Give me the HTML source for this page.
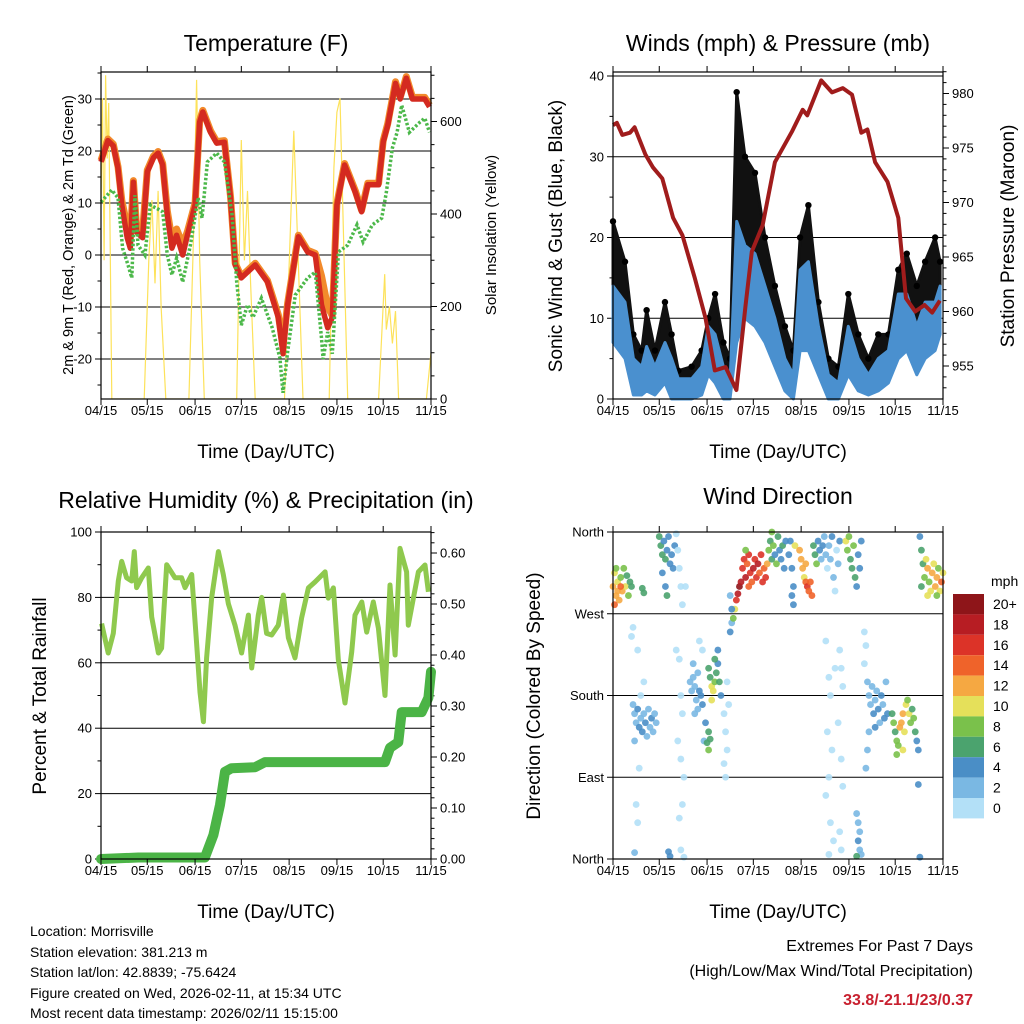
<!DOCTYPE html>
<html><head><meta charset="utf-8"><style>
body{margin:0;background:#fff;}
svg{display:block;font-family:"Liberation Sans",sans-serif;}
</style></head><body>
<svg id="s" width="1024" height="1024" viewBox="0 0 1024 1024" xmlns="http://www.w3.org/2000/svg">
<rect width="1024" height="1024" fill="#fff"/>
<g id="g"></g>
<g font-size="14" fill="#000">
<text x="30" y="936">Location: Morrisville</text>
<text x="30" y="957">Station elevation: 381.213 m</text>
<text x="30" y="977">Station lat/lon: 42.8839; -75.6424</text>
<text x="30" y="998">Figure created on Wed, 2026-02-11, at 15:34 UTC</text>
<text x="30" y="1018">Most recent data timestamp: 2026/02/11 15:15:00</text>
</g>
<g text-anchor="end">
<text x="973" y="951" font-size="16">Extremes For Past 7 Days</text>
<text x="973" y="976" font-size="16">(High/Low/Max Wind/Total Precipitation)</text>
<text x="973" y="1005" font-size="16" font-weight="bold" fill="#c8202f">33.8/-21.1/23/0.37</text>
</g>
</svg>
<script>
// ---------- data ----------
const monthLabels=["04/15","05/15","06/15","07/15","08/15","09/15","10/15","11/15"];
const monthDays=[0,30,61,91,122,153,183,214];
// Temperature
const tempDays=[0,4.5,8,11,13.5,17,19,21,23,27,30,34,37,40,43,46,49,53,56,61,64,66,71,75,80,84,87,91,100,108,115,118,121,128,134,139,143,147,150,153,158,165,169,173,180,183,186,191,194,198,202,210,213];
const tempRed=[17.9,22,21,16.7,9.6,3.3,1.3,14,4.4,3.3,16,18.7,19.6,17.3,7.7,1.3,3.8,0,3.8,9.6,25.6,27.5,23.6,21.5,21.7,11,-1.9,-4.4,-1.9,-5.2,-12,-19,-9.6,3.5,0.6,0,-9.6,-14,-12,9.6,17.3,12,8.3,13.5,13.5,21.7,25,33,30,34,30,30,28.5];
const tempOrange=[18.2,22.3,21.3,17,10.5,5.5,3,14.3,5.5,4.5,16.3,19,19.9,17.6,8.5,3,5,2,4.5,10,25.9,27.8,23.9,21.8,22,11.3,-1.6,-4.1,-1.6,-4.9,-11.5,-17.5,-9.3,3.8,0.9,0.3,-4,-10,-11.7,9.9,17.6,12.3,8.6,13.8,13.8,22,25.3,33.3,30.3,34.3,30.3,30.3,28.8];
const dewDays=[0,7,11,14,17.5,20,22,24,28.5,32,36,40,43,46,49,53,58,63,65.5,69,75,80,85,88,91,95,98.5,104,111,116,118,121,126,134,139,143,144,147,150,154,160,166,170,176,182,185,189,192,195,200,207,210,213];
const dewVals=[10.2,12.5,11,1.3,-1.9,-4.4,11.5,1.9,0,9.6,9,8.3,0,-3.8,-0.6,-5.2,1.9,11,7.1,17.9,19.6,17.9,7.7,-5.2,-13.5,-9.6,-12,-8.3,-14,-19.8,-26.5,-18.7,-7.7,-4.4,-3.3,-16,-20,-14.8,-19,0.6,1.9,5.8,2.5,5.8,7.1,12,20.6,23.6,28.8,23.6,25.6,26.3,23.6];
const solarDays=[0,1,2,3,4,5,7,28,31,33,35,37,39,42,57,60,62,64,67,88,91,93,95,97,100,119,125,131,148,151,153,155,160,180,184,185,187,189,191,193,211,214];
const solarVals=[420,650,300,700,520,640,0,0,300,430,250,450,200,0,0,350,690,300,0,0,560,300,450,250,0,0,580,0,0,500,620,650,0,0,270,150,200,120,190,0,0,100];
// Winds & pressure
const windDays=[0,7.8,13.2,18.6,21.8,27.2,33.7,38,42.4,51,57.5,61.8,66.2,71.6,75.9,80.2,85.6,92.1,98.6,105,111.5,117,121.3,126.7,133.2,139.7,146.2,152.6,159.1,165.6,172,178.6,185,190.5,197,202.4,208.9,212.1];
const windHi=[14,12,5,4,6.5,4,7,5,2.5,2.5,4,9,8,4,2,22,19,18,14,10,5,3,16,17,9,3,2,9,5,3,5,6,13,13,9,12,12,14];
const windLo=[7,5,0.5,0.5,1,0.5,2,0,0,0,0.5,3,2,0,0,7,10,9,7,4,1,0,6,6,3,0,0,3,1,0.5,1,2,5,6,3,5,6,8];
const gustVals=[22,17,8,6,11,6,12,8,3.5,4,6,10,13,7,5,38,30,28,20,14,9,6,20,24,12,5,4,13,8,5,8,8,16,18,14,17,20,17];
const presDays=[0,2.5,6,11,14,21,26,32,39,45,53,60,66,73,80,86,90,97,105,116,123,126,135,142,149,155,161,165,170,178,185,190,196,202,207,212];
const presVals=[977.1,977.3,976.2,976.4,976.9,974.4,973.2,972.2,968.6,967,963.1,959.4,954.6,954.9,952.8,960.6,965.5,967.9,973.7,976.5,978.5,978,981.2,980.1,980.5,979.9,976.4,976.7,973.7,971.9,968.6,961.2,960,960.6,959.9,961];
// RH & precip
const rhDays=[0.4,4.7,8,11.2,13.4,16.6,19.9,21.6,23.1,26.4,30.7,32.9,37.2,39.3,42.6,48,52.3,54.5,58.8,62,64.2,66.4,68.5,71.8,76.1,79.3,82.6,86.9,91.2,95.6,97.7,102,104.2,107.4,110.7,115,118.3,121.5,125.8,130.1,134.5,138.8,145.3,147.4,150.7,153.9,158.2,162.6,164.7,169.1,172.3,176.6,179.9,184.2,187.4,190.7,193.9,198.2,199.3,202.6,205.8,210.1,212.3];
const rhVals=[72,63,69,85,91,86,85,94,83,86,89,74,63,64.5,90,86,86,83,87,66,51,42,61.5,80,94,87,78,71.5,63,74.6,58.4,74.6,80,69,68.5,71.5,80.7,67.6,61.5,73.7,82.9,84.7,87.8,79.8,82.9,61,47.7,63.3,74.6,78.6,69.4,78.6,70.6,50,83.8,62.4,95,87.8,71.5,79.8,87.8,89.9,81.7];
const precipDays=[0,24.2,67.4,72.9,77.2,80.4,84.7,99.9,106.4,184.2,187.4,192.8,195,208,212.3,214];
const precipVals=[0,0.003,0.003,0.047,0.106,0.171,0.178,0.18,0.19,0.19,0.218,0.229,0.288,0.288,0.316,0.367];
// Wind direction: day, degrees, mph
const dirDays=[],dirDegs=[],dirSpeeds=[];
const dirPts=[[0,300,12],[1,315,10],[2,290,13],[3,305,11],[4,285,12],[5,310,9],[6,295,13],[7,320,8],[8,300,10],[9,312,7],[10,290,9],[11,305,6],[1,280,14],[2,320,8],[3,295,12],[5,300,14],[12,300,6],
[13,170,3],[14,160,2],[15,150,3],[16,165,4],[17,145,5],[18,155,3],[19,140,4],[20,160,3],[21,150,5],[22,135,3],[23,165,2],[24,145,3],[25,155,4],[26,140,3],[27,160,2],[28,150,3],[14,130,2],[18,180,1],[12,245,1],[13,255,1],[16,230,1],[20,195,1],[17,100,1],[15,60,1],[16,40,1],[14,7,3],[19,298,7],[20,293,7],
[30,355,6],[31,345,7],[32,335,6],[33,350,5],[34,330,7],[35,340,4],[36,355,4],[37,325,5],[38,335,4],[39,320,4],[32,315,4],[34,300,4],[35,290,6],[40,345,4],
[41,358,1],[42,340,1],[43,320,1],[44,300,1],[45,280,1],[41,230,1],[43,220,1],[44,180,1],[45,160,1],[42,130,1],[44,110,1],[46,90,1],[45,60,1],[43,45,1],[44,10,1],[46,2,1],[47,300,1],[36,8,4],[37,3,4],
[50,195,3],[51,185,3],[52,200,2],[53,190,3],[54,175,3],[55,205,3],[56,185,4],[57,180,4],[58,170,4],[55,165,3],[53,160,2],[52,215,2],[56,240,1],[58,230,1],[60,150,4],[59,130,2],
[62,210,6],[63,200,7],[64,190,10],[65,185,11],[66,195,8],[67,205,6],[68,215,5],[69,195,6],[70,180,5],[64,175,10],[66,220,6],[68,230,4],[61,128,7],[62,120,8],[63,132,6],[62,140,6],
[72,160,1],[73,140,1],[74,120,1],[72,105,1],[73,90,1],[75,170,1],[74,195,1],
[76,250,4],[77,260,3],[78,265,8],[79,275,10],[80,285,17],[81,292,19],[82,300,20],[83,305,18],[77,275,4],[76,290,3],
[84,320,17],[85,330,16],[86,310,18],[87,325,15],[88,335,17],[89,315,16],[90,305,14],[91,320,19],[92,330,17],[93,310,16],[94,325,18],[95,315,15],[96,335,16],[97,305,17],[98,320,14],[99,310,16],[100,325,12],[86,340,9],[88,300,14],
[101,340,8],[102,350,7],[103,330,6],[104,345,9],[105,335,5],[106,325,8],[107,355,6],[108,340,4],[109,330,5],[110,345,7],[111,320,4],[112,350,5],[114,335,4],[115,350,4],[116,320,4],[117,300,4],[116,290,4],[117,280,4],[118,345,10],[103,360,8],
[121,340,12],[122,330,13],[123,320,12],[124,310,11],[125,305,15],[126,300,17],[127,295,14],[128,305,15],[129,290,14],[125,325,13],
[130,345,7],[131,335,6],[132,325,8],[133,350,5],[134,340,4],[135,330,3],[136,345,4],[137,355,2],[138,335,2],[139,320,1],[140,345,2],[141,330,3],[142,355,4],[143,310,2],[144,295,1],[145,340,1],[146,325,2],[147,350,4],
[138,240,1],[140,200,1],[141,180,1],[139,140,1],[142,120,1],[140,90,1],[138,70,1],[141,40,1],[143,20,1],[140,5,1],[147,230,1],[148,210,1],[149,190,1],[146,150,1],[148,110,1],[149,80,1],[147,30,1],[148,10,1],[144,210,1],
[151,350,10],[152,340,8],[153,355,9],[154,330,7],[155,320,7],[156,345,8],[157,310,6],[158,300,5],[159,335,4],[160,320,4],[161,350,4],
[158,50,3],[159,40,2],[160,30,3],[159,20,4],[160,10,3],[161,5,2],[158,3,7],[163,250,1],[164,235,1],[163,215,1],
[165,195,3],[166,180,2],[167,170,3],[168,190,2],[169,160,4],[170,175,3],[171,185,2],[172,165,4],[173,150,3],[174,180,4],[175,170,3],[176,155,4],[177,195,3],[178,160,4],[166,140,2],[165,120,2],[170,145,5],[164,100,2],
[181,160,6],[182,150,8],[183,140,7],[184,130,9],[185,125,8],[186,145,12],[187,150,13],[188,160,12],[189,140,11],[190,170,10],[191,175,9],[192,160,10],[193,150,8],[194,165,7],[195,155,8],[196,140,6],[197,130,4],[198,120,4],[188,120,10],[184,115,8],[198,82,4],[199,2,4],
[199,355,4],[200,340,6],[201,325,7],[202,310,8],[203,330,10],[204,320,12],[205,305,9],[206,295,11],[207,315,12],[208,325,10],[209,300,13],[210,310,12],[211,320,9],[212,295,10],[213,305,14],[214,315,11],[200,300,6],[204,290,10],[210,290,8]];
dirPts.forEach(p=>{dirDays.push(p[0]);dirDegs.push(p[1]);dirSpeeds.push(p[2]);});
const speedLabels=["20+","18","16","14","12","10","8","6","4","2","0"];
const speedColors=["#8e1519","#b71d23","#dc3328","#ef632a","#f5a842","#e5e05a","#7ac14b","#4ba36e","#4a8ec6","#7ab8e3","#b3e0f7"];

// ---------- drawing ----------
const NS="http://www.w3.org/2000/svg";
const G=document.getElementById('g');
function el(tag,attrs,parent,txt){const e=document.createElementNS(NS,tag);for(const k in attrs)e.setAttribute(k,attrs[k]);if(txt!==undefined)e.textContent=txt;(parent||G).appendChild(e);return e;}
const W=330,DAYS=214;
function xs(x0){return d=>x0+d*W/DAYS;}
function linePts(xf,yf,ds,vs){return ds.map((d,i)=>xf(d).toFixed(1)+','+yf(vs[i]).toFixed(1)).join(' ');}

function frame(x0,y0,name){
  const g=el('g',{});
  
  
  el('rect',{x:x0,y:y0,width:W,height:327,fill:'none',stroke:'#000','stroke-width':1.2},g);
  const xf=xs(x0);
  monthDays.forEach((d,i)=>{
    const x=xf(d);
    el('line',{x1:x,y1:y0+327,x2:x,y2:y0+333,stroke:'#000'},g);
    el('line',{x1:x,y1:y0,x2:x,y2:y0-6,stroke:'#000'},g);
    const t=el('text',{x:x,y:y0+343,'font-size':13,'text-anchor':'middle'},g,monthLabels[i]);
    
    
  });
  const xt=el('text',{x:x0+W/2,y:y0+386,'font-size':19,'text-anchor':'middle'},g,'Time (Day/UTC)');
  
  
  return g;
}
function title(x,y,txt){const t=el('text',{x:x,y:y,'font-size':23,'text-anchor':'middle'},G,txt);
  
  }
function ytitle(x,y,txt,size){const t=el('text',{x:x,y:y,'font-size':size,'text-anchor':'middle',transform:`rotate(-90 ${x} ${y})`},G,txt);
  
  }
function yticks(xEdge,dir,vals,yf,labels,minor,grid,x0){
  vals.forEach((v,i)=>{const y=yf(v);
    el('line',{x1:xEdge,y1:y,x2:xEdge+dir*6,y2:y,stroke:'#000'});
    if(grid)el('line',{x1:x0,y1:y,x2:x0+W,y2:y,stroke:'#000','stroke-width':1});
    const t=el('text',{x:xEdge+dir*9,y:y+4.5,'font-size':13,'text-anchor':dir<0?'end':'start'},G,labels[i]);
    
    });
  (minor||[]).forEach(v=>{const y=yf(v);el('line',{x1:xEdge,y1:y,x2:xEdge+dir*3.5,y2:y,stroke:'#000'});});
}

// Panel 1: temperature
(function(){
  const x0=101,y0=72,xf=xs(x0);
  const yT=v=>255-v*5.2, yS=v=>399-v*0.4625;
  title(266,51,'Temperature (F)');
  ytitle(73,235,'2m & 9m T (Red, Orange) & 2m Td (Green)',14.5);
  ytitle(496,235,'Solar Insolation (Yellow)',15);
  const minT=[];for(let v=-25;v<=35;v+=5)if(v%10)minT.push(v);
  yticks(x0,-1,[-20,-10,0,10,20,30],yT,['-20','-10','0','10','20','30'],minT,true,x0);
  yticks(x0+W,1,[0,200,400,600],yS,['0','200','400','600'],[50,100,150,250,300,350,450,500,550,650,700],false,x0);
  const cp=el('clipPath',{id:'c1'});el('rect',{x:x0,y:y0,width:W,height:327},cp);
  const solar=el('polyline',{points:linePts(xf,yS,solarDays,solarVals),fill:'none',stroke:'#fde25a','stroke-width':1.2,'clip-path':'url(#c1)'});
  
  
  const or=el('polyline',{points:linePts(xf,yT,tempDays,tempOrange),fill:'none',stroke:'#f28a2b','stroke-width':7,'stroke-linejoin':'round'});
  
  
  const rd=el('polyline',{points:linePts(xf,yT,tempDays,tempRed),fill:'none',stroke:'#d42a20','stroke-width':5.5,'stroke-linejoin':'round'});
  
  
  const dw=el('polyline',{points:linePts(xf,yT,dewDays,dewVals),fill:'none',stroke:'#4cb84a','stroke-width':3.5,'stroke-dasharray':'2.5 2'});
  
  
  frame(x0,y0,'temperature');
})();

// Panel 2: winds & pressure
(function(){
  const x0=613,y0=72,xf=xs(x0);
  const yW=v=>399-v*8.075, yP=v=>366-(v-955)*10.9;
  title(778,51,'Winds (mph) & Pressure (mb)');
  ytitle(562,236,'Sonic Wind & Gust (Blue, Black)',19);
  ytitle(1014,236,'Station Pressure (Maroon)',19);
  yticks(x0,-1,[0,10,20,30,40],yW,['0','10','20','30','40'],[5,15,25,35],true,x0);
  const pm=[];for(let v=953;v<=982;v++)if(v%5)pm.push(v);
  yticks(x0+W,1,[955,960,965,970,975,980],yP,['955','960','965','970','975','980'],pm,false,x0);
  const top=linePts(xf,yW,windDays,gustVals), hi=windDays.map((d,i)=>xf(d).toFixed(1)+','+yW(windHi[i]).toFixed(1)).reverse().join(' ');
  const gb=el('polygon',{points:top+' '+hi,fill:'#111','stroke':'#111','stroke-width':3,'stroke-linejoin':'round'});
  
  
  windDays.forEach((d,i)=>{const c=el('circle',{cx:xf(d),cy:yW(gustVals[i]),r:3.2,fill:'#000'});
    
    });
  const lo=windDays.map((d,i)=>xf(d).toFixed(1)+','+yW(windLo[i]).toFixed(1)).reverse().join(' ');
  const wb=el('polygon',{points:linePts(xf,yW,windDays,windHi)+' '+lo,fill:'#4a90cf',stroke:'#4a90cf','stroke-width':3,'stroke-linejoin':'round'});
  
  
  const pl=el('polyline',{points:linePts(xf,yP,presDays,presVals),fill:'none',stroke:'#a01c1c','stroke-width':4,'stroke-linejoin':'round'});
  
  
  frame(x0,y0,'winds');
})();

// Panel 3: RH & precip
(function(){
  const x0=101,y0=532,xf=xs(x0);
  const yR=v=>859-v*3.27, yPr=v=>859-v*510;
  title(266,508,'Relative Humidity (%) & Precipitation (in)');
  ytitle(46,696,'Percent & Total Rainfall',19);
  yticks(x0,-1,[0,20,40,60,80,100],yR,['0','20','40','60','80','100'],[10,30,50,70,90],false,x0);
  [20,40,60,80].forEach(v=>el('line',{x1:x0,y1:yR(v),x2:x0+W,y2:yR(v),stroke:'#000'}));
  const pm=[];for(let v=0.02;v<0.65;v+=0.02){const r=Math.round(v*100);if(r%10)pm.push(r/100);}
  yticks(x0+W,1,[0,0.1,0.2,0.3,0.4,0.5,0.6],yPr,['0.00','0.10','0.20','0.30','0.40','0.50','0.60'],pm,false,x0);
  const rh=el('polyline',{points:linePts(xf,yR,rhDays,rhVals),fill:'none',stroke:'#8fc94e','stroke-width':5,'stroke-linejoin':'round'});
  
  
  const pr=el('polyline',{points:linePts(xf,yPr,precipDays,precipVals),fill:'none',stroke:'#4bb446','stroke-width':10,'stroke-linejoin':'round','stroke-linecap':'round'});
  
  
  frame(x0,y0,'humidity');
})();

// Panel 4: wind direction
(function(){
  const x0=613,y0=532,xf=xs(x0);
  const yD=v=>859-v*327/360;
  title(778,504,'Wind Direction');
  ytitle(540,696,'Direction (Colored By Speed)',19);
  yticks(x0,-1,[0,90,180,270,360],yD,['North','East','South','West','North'],[],false,x0);
  [90,180,270].forEach(v=>el('line',{x1:x0,y1:yD(v),x2:x0+W,y2:yD(v),stroke:'#000'}));
  function colorOf(s){let i=Math.min(10,Math.floor(s/2));return speedColors[10-i];}
  dirDays.forEach((d,i)=>{const c=el('circle',{cx:xf(d),cy:yD(dirDegs[i]),r:3.4,fill:colorOf(dirSpeeds[i]),'fill-opacity':0.9});
    
    });
  frame(x0,y0,'wind-direction');
  const lg=el('g',{});
  
  
  el('text',{x:991,y:586,'font-size':14},lg,'mph');
  speedColors.forEach((c,i)=>{
    el('rect',{x:953,y:594+i*20.4,width:31,height:20.4,fill:c},lg);
    const t=el('text',{x:993,y:609+i*20.4,'font-size':14},lg,speedLabels[i]);
    
    
  });
})();
</script>
</body></html>
